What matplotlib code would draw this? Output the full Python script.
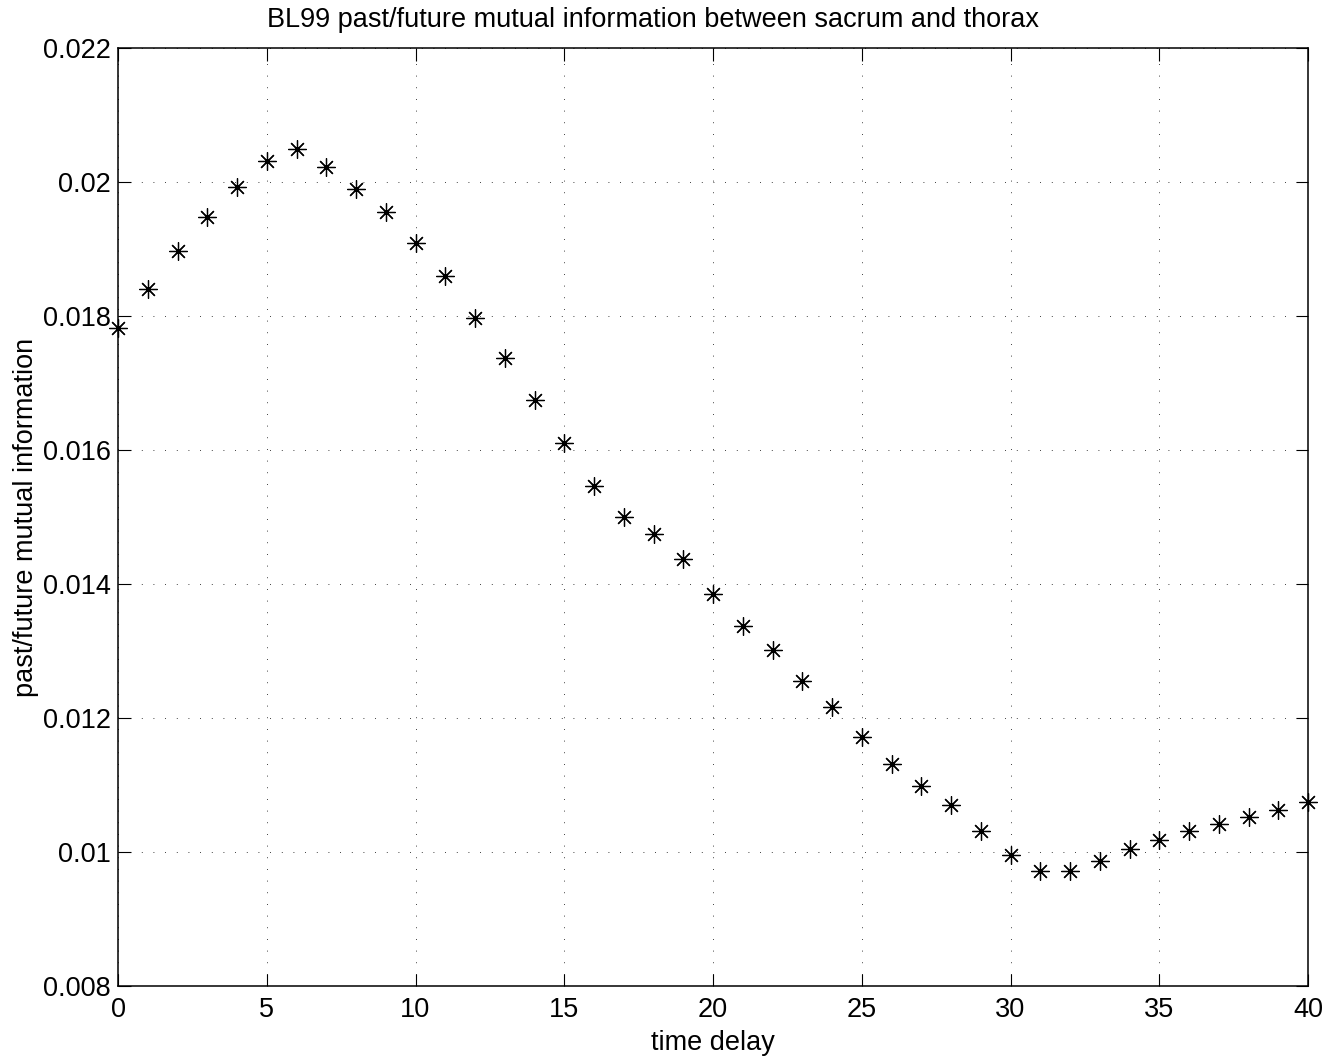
import matplotlib
matplotlib.use("Agg")
import matplotlib.pyplot as plt
import numpy as np

plt.rcParams.update({"font.family": ["Liberation Sans", "DejaVu Sans"], "font.size": 19.5})

# time delay vs. past/future mutual information
delay = np.arange(0, 41)
mi = [0.01782, 0.01840, 0.01897, 0.01948, 0.01992, 0.02031, 0.02049, 0.02023,
      0.01989, 0.01955, 0.01909, 0.01859, 0.01797, 0.01737, 0.01675, 0.01610,
      0.01547, 0.01500, 0.01475, 0.01437, 0.01385, 0.01337, 0.01301, 0.01255,
      0.01217, 0.01172, 0.01131, 0.01098, 0.01070, 0.01031, 0.00996, 0.00971,
      0.00971, 0.00986, 0.01005, 0.01018, 0.01031, 0.01042, 0.01052, 0.01062,
      0.01075]
xticks = [0, 5, 10, 15, 20, 25, 30, 35, 40]
yticks = [0.008, 0.01, 0.012, 0.014, 0.016, 0.018, 0.02, 0.022]
yticklabels = ["0.008", "0.01", "0.012", "0.014", "0.016", "0.018", "0.02", "0.022"]

fig = plt.figure(figsize=(13.36, 10.61), dpi=100)
ax = fig.add_axes([118/1336, 75/1061, 1190/1336, 938/1061])

ax.plot(delay, mi, linestyle="none", marker=(8, 2, 0), markersize=13,
        markeredgewidth=0.9, color="black", clip_on=False, zorder=3)

ax.set_xlim(0, 40); ax.set_ylim(0.008, 0.022)
ax.set_xticks(xticks); ax.set_yticks(yticks)
ax.set_yticklabels(yticklabels)
ax.tick_params(direction="in", length=9, width=0.8, top=True, right=True)
ax.tick_params(axis="x", pad=8)
ax.tick_params(axis="y", pad=5)
for s in ax.spines.values():
    s.set_linewidth(1.1)
ax.grid(True, color="black", linewidth=0.6, linestyle=(0, (1, 13)))

ax.set_xlabel("time delay", labelpad=5)
ax.set_ylabel("past/future mutual information", labelpad=3)
fig.text(653/1336, 1 - 20/1061, "BL99 past/future mutual information between sacrum and thorax",
         ha="center", va="center", fontsize=19.5)

fig.savefig("out.png", dpi=100, facecolor="white")
